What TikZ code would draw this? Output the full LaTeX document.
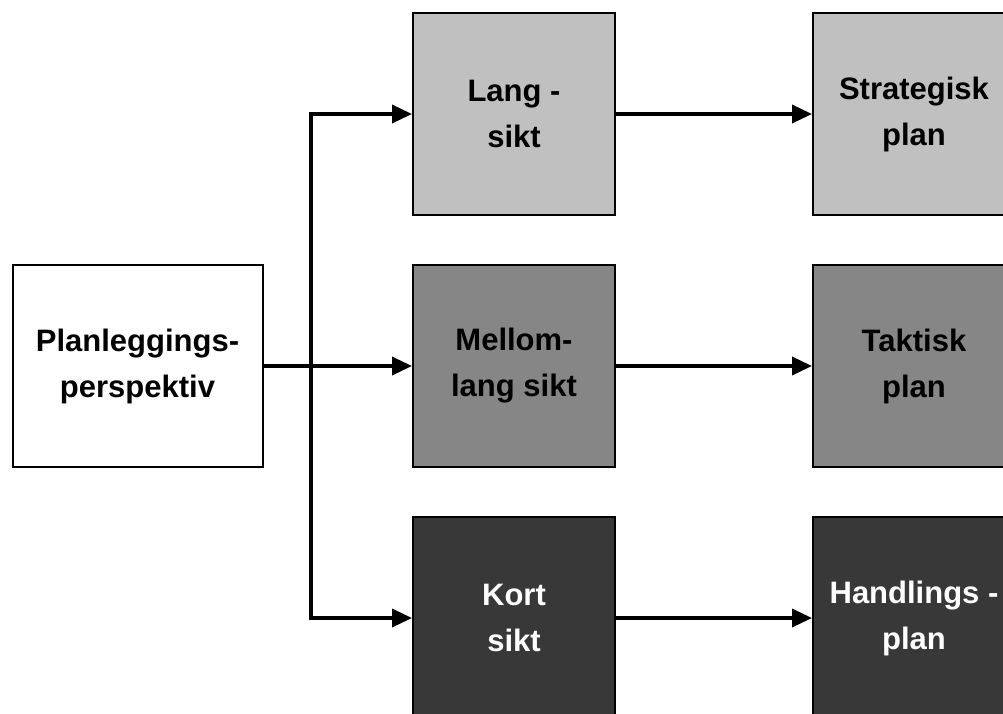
\documentclass[tikz,border=0pt]{standalone}
\usepackage{fontspec}
\setmainfont{Liberation Sans}
\usetikzlibrary{arrows.meta}
\definecolor{lightbox}{HTML}{C0C0C0}
\definecolor{midbox}{HTML}{868686}
\definecolor{darkbox}{HTML}{383838}
\begin{document}
\begin{tikzpicture}[x=1pt,y=1pt,
  box/.style={draw=black,line width=2pt,minimum width=202pt,minimum height=202pt,inner sep=0pt,
    align=center,font=\fontsize{31}{46}\selectfont\bfseries},
  startbox/.style={box,minimum width=250pt,fill=white},
  lbox/.style={box,fill=lightbox,text=black},
  mbox/.style={box,fill=midbox,text=black},
  dbox/.style={box,fill=darkbox,text=white},
  conn/.style={line width=3.5pt},
  arr/.style={conn,-{Triangle[length=20pt,width=18pt]}}]
\clip (0,0) rectangle (1003,-713);
\fill[white] (0,0) rectangle (1003,-713);
\node[startbox] (P) at (137.5,-366) {Planleggings-\\perspektiv};
\node[lbox] (M1) at (514,-114) {Lang -\\sikt};
\node[mbox] (M2) at (514,-366) {Mellom-\\lang sikt};
\node[dbox] (M3) at (514,-618) {Kort\\sikt};
\node[lbox] (R1) at (914,-114) {Strategisk\\plan};
\node[mbox] (R2) at (914,-366) {Taktisk\\plan};
\node[dbox] (R3) at (914,-618) {Handlings -\\plan};
\coordinate (jt) at (311,-114);
\coordinate (jb) at (311,-618);
\draw[conn] ([yshift=1.75pt]jt) -- ([yshift=-1.75pt]jb);
\draw[arr] (P.east) -- (M2.west);
\draw[arr] (jt) -- (M1.west);
\draw[arr] (jb) -- (M3.west);
\draw[arr] (M1.east) -- (R1.west);
\draw[arr] (M2.east) -- (R2.west);
\draw[arr] (M3.east) -- (R3.west);
\end{tikzpicture}
\end{document}
